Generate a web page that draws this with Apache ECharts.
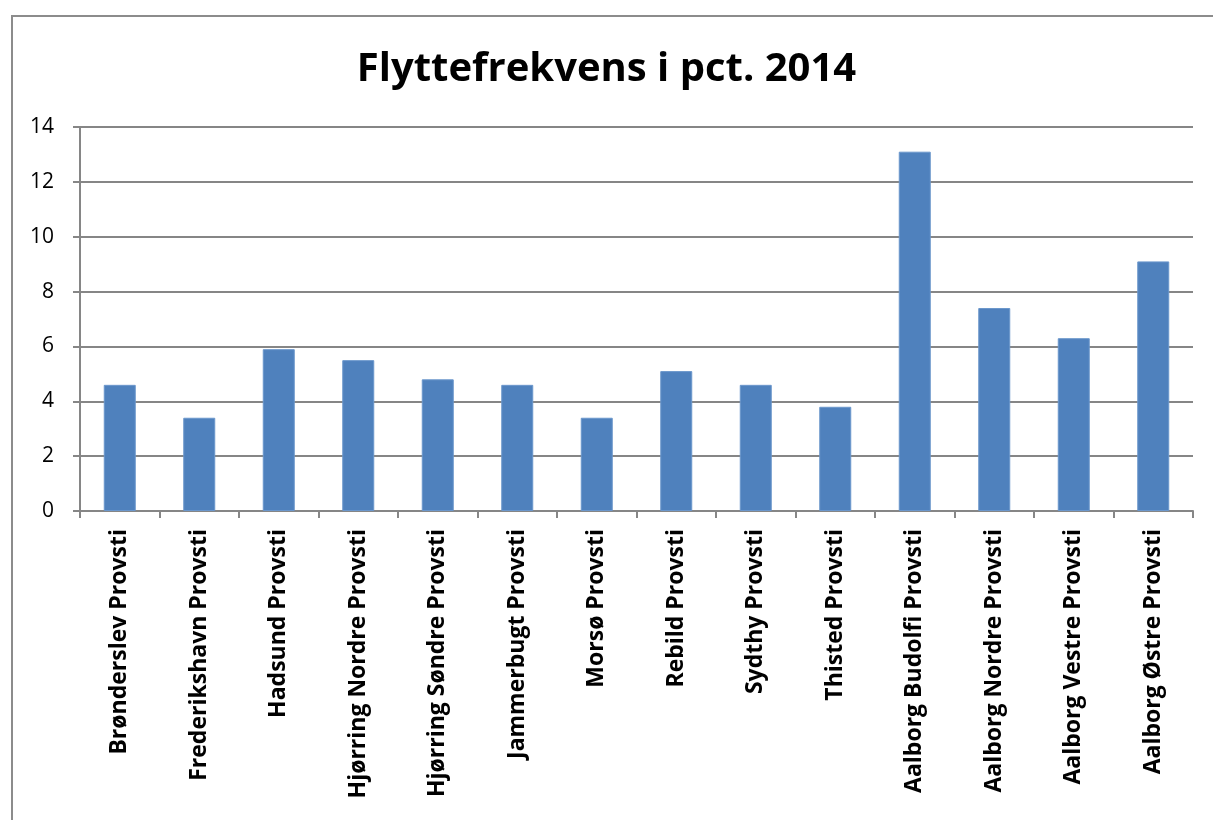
<!DOCTYPE html>
<html style="height: 100%">
<head>
    <meta charset="utf-8">
    <title>Flyttefrekvens i pct. 2014</title>
</head>
<body style="height: 100%; margin: 0; background: #fff">
    <div style="position: absolute; left: 11px; top: 15px; width: 1300px; height: 900px; border: 2px solid #8c8c8c; box-sizing: border-box"></div>
    <div id="container" style="position: absolute; left: 0; top: 0; width: 1213px; height: 820px"></div>
    <script src="https://cdn.jsdelivr.net/npm/echarts@6/dist/echarts.min.js"></script>
    <script type="text/javascript">
        // provstier og flyttefrekvens (pct.)
        var provstier = [
            'Brønderslev Provsti', 'Frederikshavn Provsti', 'Hadsund Provsti',
            'Hjørring Nordre Provsti', 'Hjørring Søndre Provsti', 'Jammerbugt Provsti',
            'Morsø Provsti', 'Rebild Provsti', 'Sydthy Provsti', 'Thisted Provsti',
            'Aalborg Budolfi Provsti', 'Aalborg Nordre Provsti', 'Aalborg Vestre Provsti',
            'Aalborg Østre Provsti'
        ];
        var frekvens = [4.6, 3.4, 5.9, 5.5, 4.8, 4.6, 3.4, 5.1, 4.6, 3.8, 13.1, 7.4, 6.3, 9.1];
        var yMin = 0, yMax = 14, yStep = 2;

        var dom = document.getElementById('container');
        var myChart = echarts.init(dom);
        var font = '"Open Sans", Lato, sans-serif';
        var option = {
            animation: false,
            title: {
                text: 'Flyttefrekvens i pct. 2014',
                left: 'center',
                top: 45,
                textStyle: { fontFamily: font, fontSize: 40, fontWeight: 'bold', color: '#000' }
            },
            grid: { left: 80, right: 20, top: 127, bottom: 309, containLabel: false },
            xAxis: {
                type: 'category',
                data: provstier,
                axisLine: { lineStyle: { color: '#868686', width: 2 } },
                axisTick: { show: true, length: 7, lineStyle: { color: '#868686', width: 2 } },
                axisLabel: {
                    rotate: 90,
                    interval: 0,
                    margin: 18,
                    fontFamily: font,
                    fontSize: 23,
                    fontWeight: 'bold',
                    color: '#000'
                }
            },
            yAxis: {
                type: 'value',
                min: yMin,
                max: yMax,
                interval: yStep,
                axisLine: { show: true, lineStyle: { color: '#868686', width: 2 } },
                axisTick: { show: true, length: 7, lineStyle: { color: '#868686', width: 2 } },
                splitLine: { lineStyle: { color: '#868686', width: 2 } },
                axisLabel: { margin: 26, fontFamily: font, fontSize: 21, color: '#000' }
            },
            series: [{
                type: 'bar',
                data: frekvens,
                barWidth: 32,
                itemStyle: { color: '#4f81bd', borderColor: '#6b97cc', borderWidth: 1 }
            }]
        };
        myChart.setOption(option);
    </script>
</body>
</html>
